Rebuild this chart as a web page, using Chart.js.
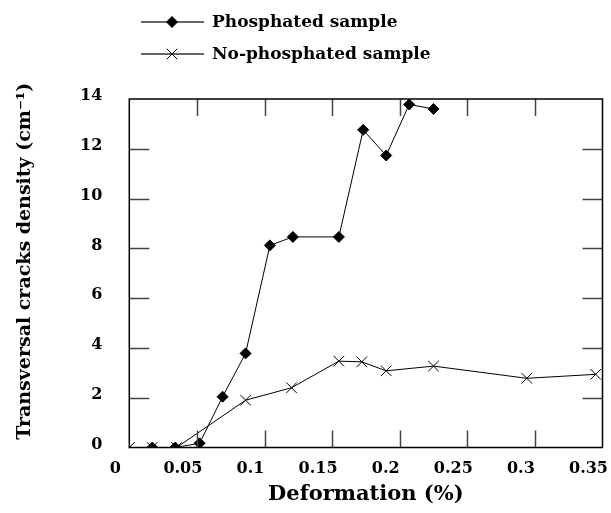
<!DOCTYPE html>
<html>
<head>
<meta charset="utf-8">
<script src="https://cdn.jsdelivr.net/npm/chart.js@4.4.1/dist/chart.umd.min.js"></script>
<style>
  html, body { margin: 0; padding: 0; background: #fff; }
  #wrap { width: 611px; height: 513px; position: relative; }
</style>
</head>
<body>
<div id="wrap"><canvas id="chart"></canvas></div>
<script>
// values
const phosX = [0.017, 0.034, 0.052, 0.069, 0.086, 0.104, 0.121, 0.155, 0.173, 0.19, 0.207, 0.225];
const phosY = [0, 0, 0.17, 2.04, 3.78, 8.12, 8.46, 8.46, 12.76, 11.73, 13.78, 13.6];
const noPhosX = [0, 0.017, 0.035, 0.086, 0.12, 0.155, 0.172, 0.19, 0.225, 0.294, 0.345];
const noPhosY = [0, 0, 0, 1.9, 2.4, 3.47, 3.44, 3.08, 3.27, 2.78, 2.94];

const xTickLabels = ['0', '0.05', '0.1', '0.15', '0.2', '0.25', '0.3', '0.35'];
const yTickLabels = ['0', '2', '4', '6', '8', '10', '12', '14'];
const seriesNames = ['Phosphated sample', 'No-phosphated sample'];
const xTitle = 'Deformation (%)';
const yTitle = 'Transversal cracks density (cm\u207B\u00B9)';

const FONT = "'DejaVu Serif', serif";

const toPoints = (xs, ys) => xs.map((x, i) => ({ x: x, y: ys[i] }));

// inner tick marks on all four sides + frame
const frameTicks = {
    id: 'frameTicks',
    afterDraw(chart) {
        const { ctx, chartArea: a, scales: { x, y } } = chart;
        ctx.save();
        ctx.strokeStyle = '#444';
        ctx.lineWidth = 1.5;
        ctx.beginPath();
        x.ticks.forEach(t => {
            const px = Math.round(x.getPixelForValue(t.value)) + 0.5;
            if (px <= a.left + 1 || px >= a.right - 1) return;
            ctx.moveTo(px, a.bottom); ctx.lineTo(px, a.bottom - 17);
            ctx.moveTo(px, a.top); ctx.lineTo(px, a.top + 17);
        });
        y.ticks.forEach(t => {
            const py = Math.round(y.getPixelForValue(t.value)) + 0.5;
            if (py <= a.top + 1 || py >= a.bottom - 1) return;
            ctx.moveTo(a.left, py); ctx.lineTo(a.left + 20, py);
            ctx.moveTo(a.right, py); ctx.lineTo(a.right - 20, py);
        });
        ctx.stroke();
        ctx.strokeStyle = '#000';
        ctx.lineWidth = 1.5;
        ctx.strokeRect(a.left, a.top, a.right - a.left, a.bottom - a.top);

        // y axis title, a bit above the plot centre as in the original
        ctx.fillStyle = '#000';
        ctx.font = "bold 19px " + FONT;
        ctx.textAlign = 'center';
        ctx.textBaseline = 'middle';
        ctx.translate(25, (a.top + a.bottom) / 2 - 12);
        ctx.rotate(-Math.PI / 2);
        ctx.fillText(yTitle, 0, 0);
        ctx.restore();
    }
};

// legend above the plot: line with marker in the middle
const topLegend = {
    id: 'topLegend',
    afterDraw(chart) {
        const ctx = chart.ctx;
        const rows = [22, 54];
        ctx.save();
        chart.data.datasets.forEach((ds, i) => {
            const yy = rows[i];
            ctx.strokeStyle = '#333';
            ctx.lineWidth = 1.5;
            ctx.beginPath();
            ctx.moveTo(141, yy); ctx.lineTo(204, yy);
            ctx.stroke();
            ctx.fillStyle = '#000';
            ctx.strokeStyle = '#000';
            ctx.lineWidth = 1;
            Chart.helpers.drawPoint(ctx, {
                pointStyle: ds.pointStyle, radius: ds.pointRadius, borderWidth: 1, rotation: 0
            }, 172, yy);
            ctx.fillStyle = '#000';
            ctx.font = "bold 17px " + FONT;
            ctx.textAlign = 'left';
            ctx.textBaseline = 'middle';
            ctx.fillText(ds.label, 212, yy + 1);
        });
        ctx.restore();
    }
};

new Chart(document.getElementById('chart'), {
    type: 'scatter',
    data: {
        datasets: [{
            label: seriesNames[0],
            data: toPoints(phosX, phosY),
            showLine: true,
            borderColor: '#000',
            borderWidth: 1,
            backgroundColor: '#000',
            pointStyle: 'rectRot',
            pointRadius: 5.5,
            pointBorderWidth: 1,
            pointBackgroundColor: '#000',
            pointBorderColor: '#000'
        }, {
            label: seriesNames[1],
            data: toPoints(noPhosX, noPhosY),
            showLine: true,
            borderColor: '#000',
            borderWidth: 1,
            backgroundColor: '#000',
            pointStyle: 'crossRot',
            pointRadius: 7.5,
            pointBorderWidth: 1,
            pointBorderColor: '#000'
        }]
    },
    options: {
        responsive: true,
        maintainAspectRatio: false,
        animation: false,
        events: [],
        layout: { padding: { top: 99, right: 7, bottom: 0, left: 0 } },
        plugins: { legend: { display: false }, tooltip: { enabled: false } },
        scales: {
            x: {
                type: 'linear',
                min: 0,
                max: 0.35,
                grid: { display: false, drawTicks: false },
                border: { display: false },
                afterBuildTicks: s => { s.ticks = xTickLabels.map(v => ({ value: parseFloat(v) })); },
                afterFit: s => { s.height = 65.5; s.paddingLeft = 0; s.paddingRight = 0; },
                ticks: {
                    padding: 12,
                    labelOffset: -14,
                    color: '#000',
                    font: { family: FONT, size: 16, weight: 'bold' },
                    callback: (v, i) => xTickLabels[i]
                },
                title: {
                    display: true,
                    text: xTitle,
                    color: '#000',
                    font: { family: FONT, size: 21, weight: 'bold' },
                    padding: { top: 0, bottom: 6 }
                }
            },
            y: {
                type: 'linear',
                min: 0,
                max: 14,
                grid: { display: false, drawTicks: false },
                border: { display: false },
                afterBuildTicks: s => { s.ticks = yTickLabels.map(v => ({ value: parseFloat(v) })); },
                afterFit: s => { s.width = 129.3; s.paddingTop = 0; s.paddingBottom = 0; },
                ticks: {
                    padding: 27,
                    labelOffset: -3,
                    color: '#000',
                    font: { family: FONT, size: 16, weight: 'bold' },
                    callback: (v, i) => yTickLabels[i]
                }
            }
        }
    },
    plugins: [frameTicks, topLegend]
});
</script>
</body>
</html>
